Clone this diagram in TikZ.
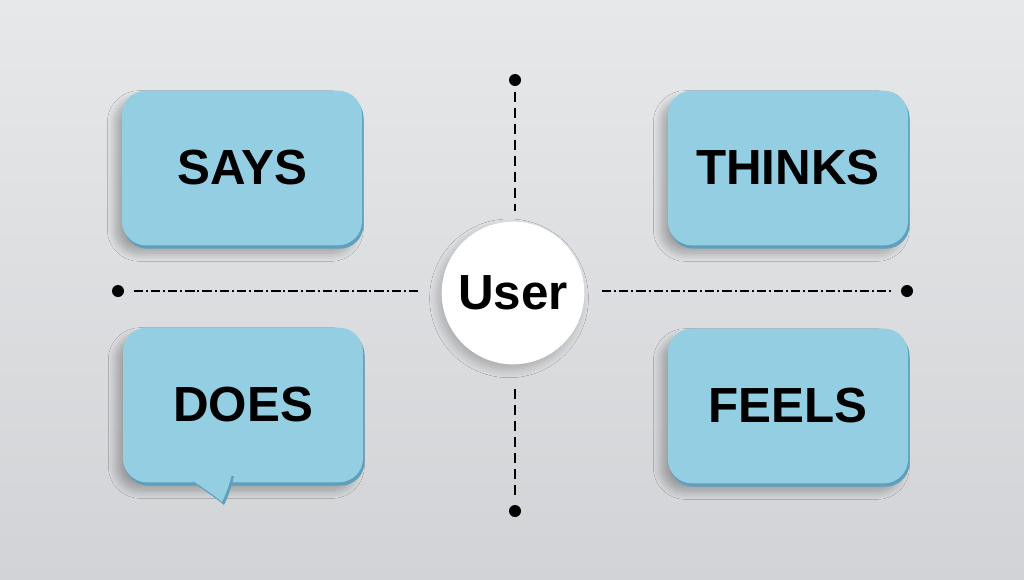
\documentclass[tikz,border=0pt]{standalone}
\usepackage{fontspec}
\setmainfont{Liberation Sans}
\usetikzlibrary{shadows.blur}
\definecolor{bgtop}{HTML}{E7E8EA}
\definecolor{bgbot}{HTML}{D2D3D6}
\definecolor{face}{HTML}{93CEE3}
\definecolor{edge}{HTML}{5E9FBC}
\begin{document}
\begin{tikzpicture}[x=0.75pt,y=-0.75pt,
  card/.style={rectangle, rounded corners=18pt, fill=face,
    minimum width=180pt, minimum height=116pt, inner sep=0pt,
    font=\bfseries\fontsize{37}{40}\selectfont, text=black,
    blur shadow={shadow xshift=-5pt, shadow yshift=-6pt, shadow blur radius=6pt,
      shadow blur steps=12, shadow opacity=28},
    general shadow={fill=edge, shadow xshift=1.2pt, shadow yshift=-2.5pt}},
  hub/.style={circle, fill=white, minimum size=107pt, inner sep=0pt,
    font=\bfseries\fontsize{37}{40}\selectfont, text=black,
    blur shadow={shadow xshift=-3pt, shadow yshift=-4pt, shadow blur radius=6pt,
      shadow blur steps=12, shadow opacity=22}},
  dotnode/.style={circle, fill=black, minimum size=9pt, inner sep=0pt},
  hline/.style={line width=1.4pt, dash pattern=on 7pt off 2.2pt on 1.5pt off 2.2pt},
  vline/.style={line width=1.5pt, dash pattern=on 8pt off 4pt},
  tailedge/.style={fill=edge},
  tailface/.style={fill=face}]
\fill[top color=bgtop, bottom color=bgbot] (0,0) rectangle (1024,579);
\useasboundingbox (0,0) rectangle (1024,579);

% cards
\node[card] (says) at (242,168) {SAYS};
\node[card] (thinks) at (788,168) {THINKS};
\node[card] (does) at (243,405) {DOES};
\node[card] (feels) at (788,406) {FEELS};

% speech tail of DOES
\fill[tailedge] (190,476) -- (195,484) .. controls (207,492) and (217,499) .. (224,505)
  .. controls (228,497) and (230,491) .. (232,484) -- (234,476) -- cycle;
\fill[tailface] (188,474) -- (193,481) .. controls (205,489) and (215,496) .. (222,502)
  .. controls (226,494) and (228,488) .. (230,481) -- (232,474) -- cycle;

% centre
\node[hub] (user) at (513,293) {User};

% dots
\node[dotnode] (dotL) at (118,291) {};
\node[dotnode] (dotR) at (907,291) {};
\node[dotnode] (dotT) at (515,80) {};
\node[dotnode] (dotB) at (515,511) {};

% axes
\draw[hline, shorten <=7pt, shorten >=17pt] (dotL) -- (user.west |- dotL);
\draw[hline, shorten <=13pt, shorten >=6pt] (user.east |- dotR) -- (dotR);
\draw[vline, shorten <=4pt, shorten >=8pt] (dotT) -- (user.north -| dotT);
\draw[vline, shorten <=18pt, shorten >=5pt] (user.south -| dotB) -- (dotB);
\end{tikzpicture}
\end{document}
